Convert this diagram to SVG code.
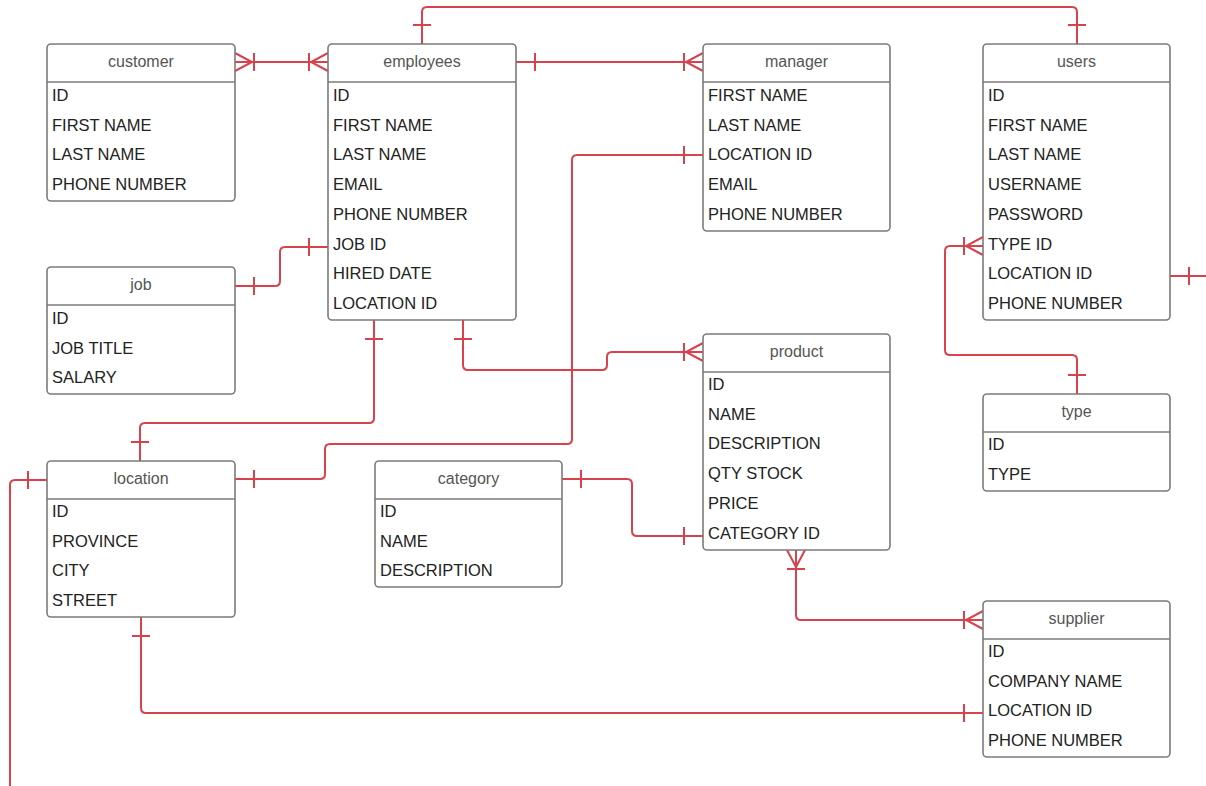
<svg xmlns="http://www.w3.org/2000/svg" width="1206" height="786" viewBox="0 0 1206 786">
<style>
.box{fill:#fff;stroke:#7b7b7b;stroke-width:1.6}
.div{stroke:#7b7b7b;stroke-width:1.6}
.hd{font-family:"Liberation Sans",Arial,sans-serif;font-size:16px;fill:#555;text-anchor:middle}
.row{font-family:"Liberation Sans",Arial,sans-serif;font-size:16.5px;fill:#222}
.cn{fill:none;stroke:#d7424c;stroke-width:2}
</style>
<defs>
<path id="one" d="M19,-9 V9" class="cn"/>
<path id="crow" d="M0,-9 L17,0 L0,9 M19,-9 V9" class="cn"/>
</defs>
<g id="connectors">
<path class="cn" d="M235,62 H328"/>
<path class="cn" d="M516,62 H703"/>
<path class="cn" d="M422,44 V12 Q422,7 427,7 H1072 Q1077,7 1077,12 V44"/>
<path class="cn" d="M235,286 H275 Q280,286 280,281 V252 Q280,247 285,247 H328"/>
<path class="cn" d="M374,320 V418 Q374,423 369,423 H145 Q140,423 140,428 V461"/>
<path class="cn" d="M235,479 H320 Q325,479 325,474 V449 Q325,444 330,444 H567 Q572,444 572,439 V160 Q572,155 577,155 H703"/>
<path class="cn" d="M463,320 V365 Q463,370 468,370 H602 Q607,370 607,365 V357 Q607,352 612,352 H703"/>
<path class="cn" d="M562,479 H627 Q632,479 632,484 V531 Q632,536 637,536 H703"/>
<path class="cn" d="M796,550 V615 Q796,620 801,620 H983"/>
<path class="cn" d="M983,246 H950 Q945,246 945,251 V350 Q945,355 950,355 H1072 Q1077,355 1077,360 V394"/>
<path class="cn" d="M1170,276 H1206"/>
<path class="cn" d="M47,480 H15 Q10,480 10,485 V786"/>
<path class="cn" d="M141,617 V708 Q141,713 146,713 H983"/>
<use href="#crow" transform="translate(235,62)"/>
<use href="#crow" transform="translate(328,62) rotate(180)"/>
<use href="#one" transform="translate(516,62)"/>
<use href="#crow" transform="translate(703,62) rotate(180)"/>
<use href="#one" transform="translate(422,44) rotate(-90)"/>
<use href="#one" transform="translate(1077,44) rotate(-90)"/>
<use href="#one" transform="translate(235,286)"/>
<use href="#one" transform="translate(328,247) rotate(180)"/>
<use href="#one" transform="translate(374,320) rotate(90)"/>
<use href="#one" transform="translate(140,461) rotate(-90)"/>
<use href="#one" transform="translate(235,479)"/>
<use href="#one" transform="translate(703,155) rotate(180)"/>
<use href="#one" transform="translate(463,320) rotate(90)"/>
<use href="#crow" transform="translate(703,352) rotate(180)"/>
<use href="#one" transform="translate(562,479)"/>
<use href="#one" transform="translate(703,536) rotate(180)"/>
<use href="#crow" transform="translate(796,550) rotate(90)"/>
<use href="#crow" transform="translate(983,620) rotate(180)"/>
<use href="#crow" transform="translate(983,246) rotate(180)"/>
<use href="#one" transform="translate(1077,394) rotate(-90)"/>
<use href="#one" transform="translate(1170,276)"/>
<use href="#one" transform="translate(47,480) rotate(180)"/>
<use href="#one" transform="translate(141,617) rotate(90)"/>
<use href="#one" transform="translate(983,713) rotate(180)"/>
</g>
<g id="customer">
<rect class="box" x="47" y="44" width="188" height="157" rx="4"/>
<line class="div" x1="47" y1="82" x2="235" y2="82"/>
<text class="hd" x="141" y="67">customer</text>
<text class="row" x="52" y="101">ID</text>
<text class="row" x="52" y="130.7">FIRST NAME</text>
<text class="row" x="52" y="160.4">LAST NAME</text>
<text class="row" x="52" y="190.1">PHONE NUMBER</text>
</g>
<g id="employees">
<rect class="box" x="328" y="44" width="188" height="276" rx="4"/>
<line class="div" x1="328" y1="82" x2="516" y2="82"/>
<text class="hd" x="422" y="67">employees</text>
<text class="row" x="333" y="101">ID</text>
<text class="row" x="333" y="130.7">FIRST NAME</text>
<text class="row" x="333" y="160.4">LAST NAME</text>
<text class="row" x="333" y="190.1">EMAIL</text>
<text class="row" x="333" y="219.8">PHONE NUMBER</text>
<text class="row" x="333" y="249.5">JOB ID</text>
<text class="row" x="333" y="279.2">HIRED DATE</text>
<text class="row" x="333" y="308.9">LOCATION ID</text>
</g>
<g id="manager">
<rect class="box" x="703" y="44" width="187" height="187" rx="4"/>
<line class="div" x1="703" y1="82" x2="890" y2="82"/>
<text class="hd" x="796.5" y="67">manager</text>
<text class="row" x="708" y="101">FIRST NAME</text>
<text class="row" x="708" y="130.7">LAST NAME</text>
<text class="row" x="708" y="160.4">LOCATION ID</text>
<text class="row" x="708" y="190.1">EMAIL</text>
<text class="row" x="708" y="219.8">PHONE NUMBER</text>
</g>
<g id="users">
<rect class="box" x="983" y="44" width="187" height="276" rx="4"/>
<line class="div" x1="983" y1="82" x2="1170" y2="82"/>
<text class="hd" x="1076.5" y="67">users</text>
<text class="row" x="988" y="101">ID</text>
<text class="row" x="988" y="130.7">FIRST NAME</text>
<text class="row" x="988" y="160.4">LAST NAME</text>
<text class="row" x="988" y="190.1">USERNAME</text>
<text class="row" x="988" y="219.8">PASSWORD</text>
<text class="row" x="988" y="249.5">TYPE ID</text>
<text class="row" x="988" y="279.2">LOCATION ID</text>
<text class="row" x="988" y="308.9">PHONE NUMBER</text>
</g>
<g id="job">
<rect class="box" x="47" y="267" width="188" height="127" rx="4"/>
<line class="div" x1="47" y1="305" x2="235" y2="305"/>
<text class="hd" x="141" y="290">job</text>
<text class="row" x="52" y="324">ID</text>
<text class="row" x="52" y="353.7">JOB TITLE</text>
<text class="row" x="52" y="383.4">SALARY</text>
</g>
<g id="location">
<rect class="box" x="47" y="461" width="188" height="156" rx="4"/>
<line class="div" x1="47" y1="499" x2="235" y2="499"/>
<text class="hd" x="141" y="484">location</text>
<text class="row" x="52" y="517">ID</text>
<text class="row" x="52" y="546.7">PROVINCE</text>
<text class="row" x="52" y="576.4">CITY</text>
<text class="row" x="52" y="606.1">STREET</text>
</g>
<g id="category">
<rect class="box" x="375" y="461" width="187" height="126" rx="4"/>
<line class="div" x1="375" y1="499" x2="562" y2="499"/>
<text class="hd" x="468.5" y="484">category</text>
<text class="row" x="380" y="517">ID</text>
<text class="row" x="380" y="546.7">NAME</text>
<text class="row" x="380" y="576.4">DESCRIPTION</text>
</g>
<g id="product">
<rect class="box" x="703" y="334" width="187" height="216" rx="4"/>
<line class="div" x1="703" y1="372" x2="890" y2="372"/>
<text class="hd" x="796.5" y="357">product</text>
<text class="row" x="708" y="390">ID</text>
<text class="row" x="708" y="419.7">NAME</text>
<text class="row" x="708" y="449.4">DESCRIPTION</text>
<text class="row" x="708" y="479.1">QTY STOCK</text>
<text class="row" x="708" y="508.8">PRICE</text>
<text class="row" x="708" y="538.5">CATEGORY ID</text>
</g>
<g id="type">
<rect class="box" x="983" y="394" width="187" height="97" rx="4"/>
<line class="div" x1="983" y1="432" x2="1170" y2="432"/>
<text class="hd" x="1076.5" y="417">type</text>
<text class="row" x="988" y="450">ID</text>
<text class="row" x="988" y="479.7">TYPE</text>
</g>
<g id="supplier">
<rect class="box" x="983" y="601" width="187" height="156" rx="4"/>
<line class="div" x1="983" y1="639" x2="1170" y2="639"/>
<text class="hd" x="1076.5" y="624">supplier</text>
<text class="row" x="988" y="657">ID</text>
<text class="row" x="988" y="686.7">COMPANY NAME</text>
<text class="row" x="988" y="716.4">LOCATION ID</text>
<text class="row" x="988" y="746.1">PHONE NUMBER</text>
</g>
</svg>
